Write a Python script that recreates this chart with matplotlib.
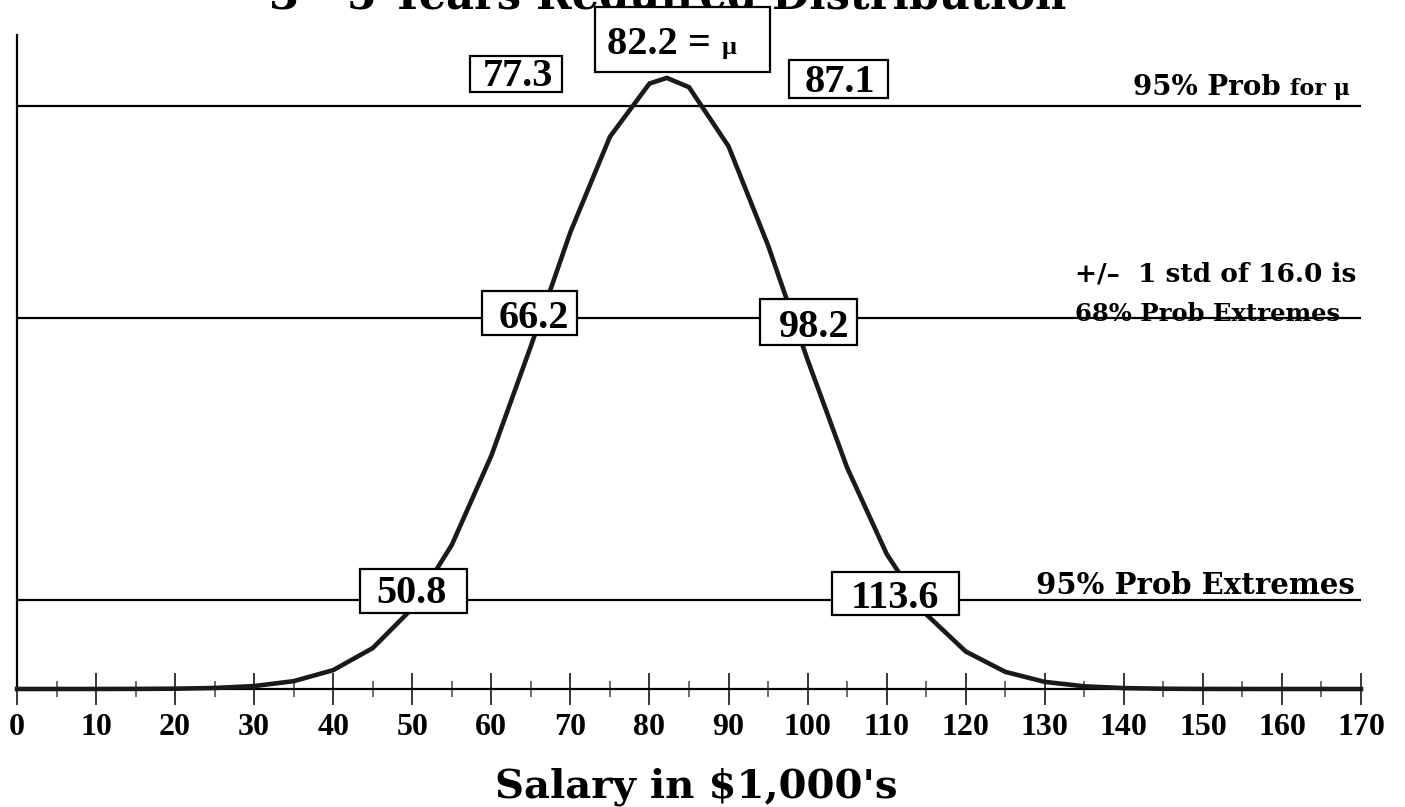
import matplotlib
matplotlib.use("Agg")
import matplotlib.pyplot as plt
from matplotlib.patches import Rectangle

# ---------------- data ----------------
salary = [0, 5, 10, 15, 20, 25, 30, 35, 40, 45, 50, 55, 60, 65, 70, 75, 80,
          82.2, 85, 90, 95, 100, 105, 110, 115, 120, 125, 130, 135, 140, 145,
          150, 155, 160, 165, 170]
density = [0.0, 0.0002, 0.0009, 0.004, 0.013, 0.042, 0.12, 0.32, 0.77, 1.67,
           3.29, 5.88, 9.52, 13.99, 18.64, 22.53, 24.70, 24.93, 24.55, 22.14,
           18.10, 13.43, 9.03, 5.51, 3.05, 1.53, 0.70, 0.29, 0.11, 0.037,
           0.011, 0.003, 0.0008, 0.0002, 0.00004, 0.00001]
ref_levels = [23.79, 15.12, 3.63]           # 95% for mu, 68%, 95% extremes
mean_value = 82.2
mu_ci = [77.3, 87.1]
one_std = [66.2, 98.2]
two_std = [50.8, 113.6]
xticks_major = list(range(0, 171, 10))
xticks_minor = list(range(5, 171, 10))

title = "3 - 5 Years Required Distribution"
xlabel = "Salary in $1,000's"

# ---------------- figure ----------------
W, H = 1405, 807
plt.rcParams['font.family'] = ['Liberation Serif', 'DejaVu Serif']
plt.rcParams['font.weight'] = 'bold'
fig = plt.figure(figsize=(W / 100, H / 100), dpi=100)
fig.patch.set_facecolor('white')


def fx(px):
    return px / W


def fy(py):
    return 1 - py / H


ax = fig.add_axes([fx(17), fy(689), fx(1361) - fx(17), fy(35) - fy(689)])
ax.set_xlim(0, 170)
ax.set_ylim(0, 26.68)

ax.hlines(ref_levels, 0, 170, color='black', lw=1.6, zorder=2)
ax.plot(salary, density, color='#1a1a1a', lw=3.3, zorder=3,
        solid_joinstyle='miter', clip_on=False)

for s in ['top', 'right']:
    ax.spines[s].set_visible(False)
ax.spines['left'].set_linewidth(1.6)
ax.spines['bottom'].set_linewidth(1.6)
ax.set_yticks([])
ax.set_xticks(xticks_major)
ax.set_xticks(xticks_minor, minor=True)
ax.tick_params(axis='x', which='major', direction='inout', length=23,
               width=1.1, labelsize=23, pad=6)
ax.tick_params(axis='x', which='minor', direction='inout', length=11,
               width=1.1, color='#444444')
for lab in ax.get_xticklabels():
    lab.set_fontweight('bold')

# title (cut off at the top edge in the reference)
fig.text(fx(668), fy(9), title, ha='center', va='baseline', fontsize=31,
         fontweight='bold', family='DejaVu Serif')

fig.text(fx(696), fy(797), xlabel, ha='center', va='baseline', fontsize=29,
         fontweight='bold', family='DejaVu Serif')

# ---------------- value boxes ----------------
def box(l, t, r, b):
    fig.patches.append(Rectangle((fx(l), fy(b)), fx(r) - fx(l), fy(t) - fy(b),
                                 transform=fig.transFigure, facecolor='white',
                                 edgecolor='black', lw=1.6, zorder=5))


def boxtext(cx, base, s, size=29):
    fig.text(fx(cx), fy(base), s, ha='center', va='baseline', fontsize=size,
             fontweight='bold', family='Liberation Serif', zorder=6)


box(470, 56, 562, 92)
boxtext(518, 86, f"{mu_ci[0]:.1f}")
box(789, 60, 888, 98)
boxtext(840, 92, f"{mu_ci[1]:.1f}")

box(595, 7, 770, 72)
fig.text(fx(607), fy(54), f"{mean_value:.1f} =", ha='left', va='baseline',
         fontsize=29, fontweight='bold', family='Liberation Serif', zorder=6)
fig.text(fx(722), fy(54), "μ", ha='left', va='baseline', fontsize=19,
         fontweight='bold', family='Liberation Serif', zorder=6)

box(482, 291, 577, 335)
boxtext(534, 328, f"{one_std[0]:.1f}")
box(760, 299, 857, 345)
boxtext(814, 337, f"{one_std[1]:.1f}")

box(360, 569, 467, 613)
boxtext(412, 603, f"{two_std[0]:.1f}")
box(832, 572, 959, 615)
boxtext(895, 608, f"{two_std[1]:.1f}")

# ---------------- right-side captions ----------------
cap = dict(va='baseline', fontweight='bold', family='DejaVu Serif', zorder=6)
fig.text(fx(1281), fy(95), "95% Prob", ha='right', fontsize=20, **cap)
fig.text(fx(1350), fy(95), "for μ", ha='right', fontsize=16, **cap)
fig.text(fx(1075), fy(282), "+/–  1 std of 16.0 is", ha='left', fontsize=19, **cap)
fig.text(fx(1075), fy(321), "68% Prob Extremes", ha='left', fontsize=17.5, **cap)
fig.text(fx(1355), fy(594), "95% Prob Extremes", ha='right', fontsize=21, **cap)

fig.savefig("out.png", dpi=100, facecolor='white')
